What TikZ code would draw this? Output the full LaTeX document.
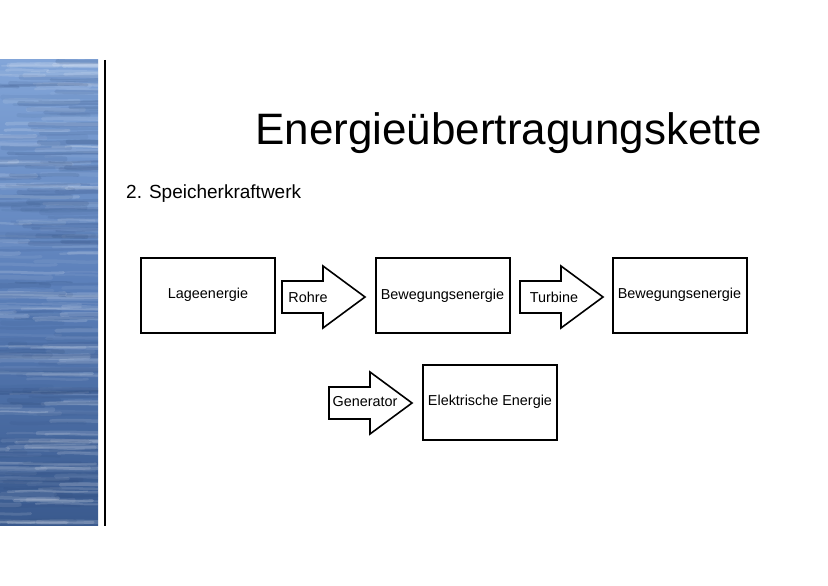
\documentclass[tikz,border=0pt]{standalone}
\usepackage{fontspec}
\setmainfont{Liberation Sans}
\usetikzlibrary{calc,positioning}

\definecolor{waterlight}{HTML}{82A5D8}
\definecolor{watermid}{HTML}{5A7EB8}
\definecolor{waterdark}{HTML}{3A5A8E}
\definecolor{waterdeep}{HTML}{2E4A7A}

\tikzset{
	energybox/.style={draw,line width=2pt,minimum width=134pt,minimum height=75pt,inner sep=0pt,font=\fontsize{14.4}{16}\selectfont},
	arrowtext/.style={inner sep=0pt,font=\fontsize{14.4}{16}\selectfont},
	blockarrow/.pic={
		\draw[line width=1.6pt,fill=white]
			(0,-16) -- (41,-16) -- (41,-31) -- (83,0) -- (41,31) -- (41,16) -- (0,16) -- cycle;
	}
}

\begin{document}
\begin{tikzpicture}[x=1pt,y=-1pt]
		\useasboundingbox (0,0) rectangle (828,586);
		\fill[white] (0,0) rectangle (828,586);

		% water picture on the left
		\begin{scope}
			\clip (0,60) rectangle (98,525);
			\shade[top color=waterlight,bottom color=waterdark,middle color=watermid] (0,60) rectangle (98,525);
			\pgfmathsetseed{23}
			\foreach \i in {0,...,160} {
				\pgfmathsetmacro\yy{60+rnd*465}
				\pgfmathsetmacro\xa{-40+rnd*110}
				\pgfmathsetmacro\len{40+rnd*90}
				\pgfmathsetmacro\op{0.05+0.13*rnd}
				\pgfmathsetmacro\lw{1.5+3.5*rnd}
				\draw[white,opacity=\op,line width=\lw pt,line cap=round]
					(\xa,\yy) .. controls ({\xa+\len/3},{\yy-2}) and ({\xa+2*\len/3},{\yy+2}) .. ({\xa+\len},\yy);
			}
			\foreach \i in {0,...,130} {
				\pgfmathsetmacro\yy{60+rnd*465}
				\pgfmathsetmacro\xa{-40+rnd*110}
				\pgfmathsetmacro\len{40+rnd*90}
				\pgfmathsetmacro\op{0.06+0.14*rnd}
				\pgfmathsetmacro\lw{1.5+4*rnd}
				\draw[waterdeep,opacity=\op,line width=\lw pt,line cap=round]
					(\xa,\yy) .. controls ({\xa+\len/3},{\yy+2}) and ({\xa+2*\len/3},{\yy-2}) .. ({\xa+\len},\yy);
			}
		\end{scope}
		\draw[line width=2.6pt] (105,60) -- (105,526);

		% titles
		\node(title) [anchor=base west,inner sep=0pt,font=\fontsize{44}{50}\selectfont] at (255,144) {Energieübertragungskette};
		\node(sub) [anchor=base west,inner sep=0pt,font=\fontsize{19}{22}\selectfont] at (126,198) {2. Speicherkraftwerk};

		% boxes
		\node(lage) [energybox] at (208,295) {Lageenergie};
		\node(beweg1) [energybox] at (442.5,295.5) {Bewegungsenergie};
		\node(beweg2) [energybox] at (679.5,295) {Bewegungsenergie};
		\node(elek) [energybox] at (490,402) {Elektrische Energie};

		% arrows
		\pic at (282,297) {blockarrow};
		\pic at (520,297) {blockarrow};
		\pic at (329,403) {blockarrow};
		\node(rohre) [arrowtext] at (308,297) {Rohre};
		\node(turbine) [arrowtext] at (554,297) {Turbine};
		\node(generator) [arrowtext] at (365,402) {Generator};
	\end{tikzpicture}
\end{document}
